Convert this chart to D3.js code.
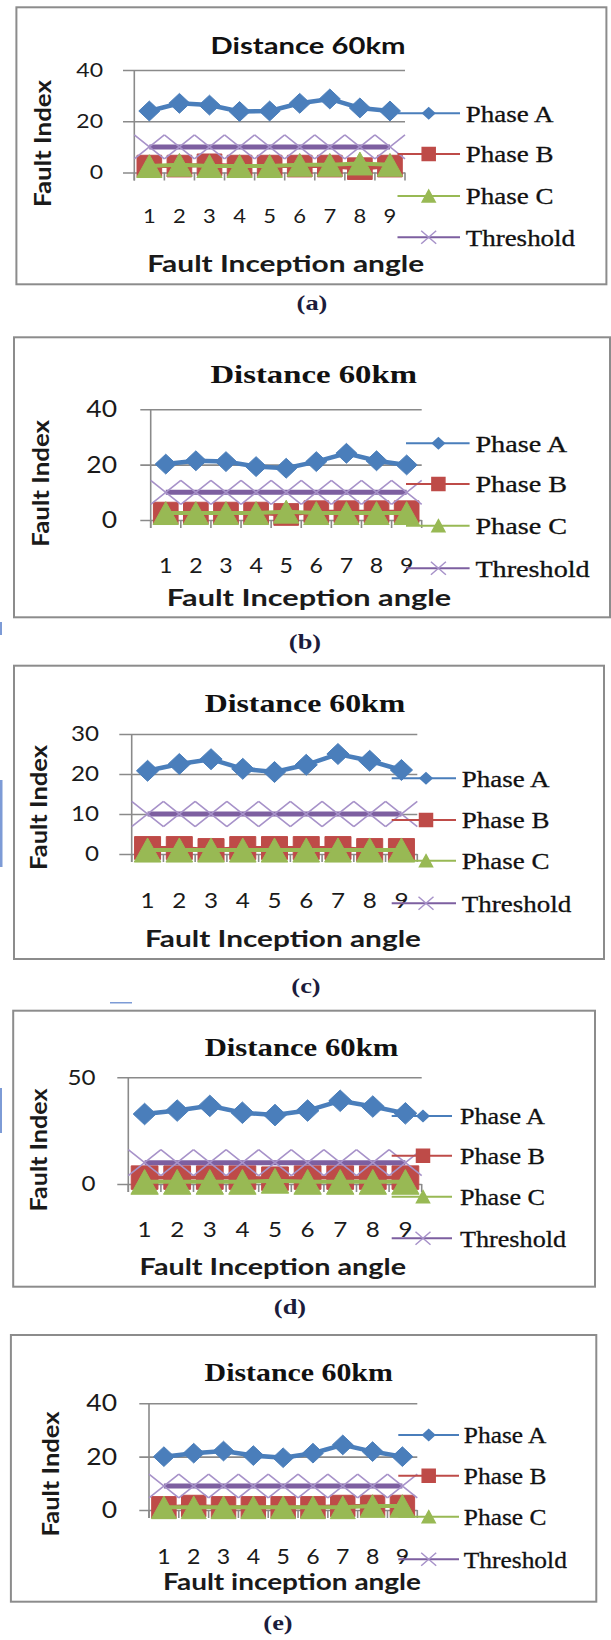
<!DOCTYPE html>
<html>
<head>
<meta charset="utf-8">
<script src="https://cdn.jsdelivr.net/npm/d3@7"></script>
<style>
  body { margin: 0; background: #fff; }
</style>
</head>
<body>
<div id="chart"></div>
<script>
// ---- data ----
const categories = ["1", "2", "3", "4", "5", "6", "7", "8", "9"];
const panelLabels = ["(a)", "(b)", "(c)", "(d)", "(e)"];
const chartTitles = ["Distance 60km", "Distance 60km", "Distance 60km", "Distance 60km", "Distance 60km"];
const xTitles = ["Fault Inception angle", "Fault Inception angle", "Fault Inception angle",
                 "Fault Inception angle", "Fault inception angle"];
const yTitle = "Fault Index";
const seriesNames = ["Phase A", "Phase B", "Phase C", "Threshold"];
const yMax = [40, 40, 30, 50, 40];
const yTicks = [[0, 20, 40], [0, 20, 40], [0, 10, 20, 30], [0, 50], [0, 20, 40]];

const phaseA = [
  [24, 27, 26.3, 23.8, 24, 27, 28.7, 25.2, 24],
  [20.2, 21.4, 21.1, 19.3, 18.7, 21.1, 24.1, 21.4, 19.9],
  [20.8, 22.5, 23.7, 21.3, 20.5, 22.3, 25, 23.3, 21],
  [32.8, 34.4, 36.6, 33.4, 32.3, 34.4, 39, 36.3, 33.1],
  [20, 21.3, 22.1, 20.4, 19.6, 21.3, 24.4, 21.9, 20]
];
const phaseB = [
  [2.5, 2.5, 3, 2.5, 2.5, 2.5, 2.5, 1.5, 2.5],
  [2.5, 2.5, 2.5, 2.5, 2, 3, 3, 3, 3],
  [1.5, 1.5, 1, 1.5, 1.5, 1.5, 1.5, 1, 1],
  [3, 3, 3, 3, 2.5, 3, 3, 3, 3],
  [1, 1.5, 1, 1, 1, 1, 1.5, 1.5, 1.5]
];
const phaseC = [
  [2.5, 3, 2.5, 2.5, 2.5, 3, 3, 3.5, 3],
  [2.5, 2.5, 2.5, 2.5, 3, 2.5, 2.5, 2.5, 2.5],
  [1, 1, 1, 1, 1, 1, 1, 1, 1],
  [1, 1, 1, 1, 1.5, 1, 1, 1, 1],
  [1, 1, 1, 1, 1, 1, 1, 1.5, 1.5]
];
const threshold = [
  [10, 10, 10, 10, 10, 10, 10, 10, 10],
  [10, 10, 10, 10, 10, 10, 10, 10, 10],
  [10, 10, 10, 10, 10, 10, 10, 10, 10],
  [10, 10, 10, 10, 10, 10, 10, 10, 10],
  [9, 9, 9, 9, 9, 9, 9, 9, 9]
];

// ---- page layout of each panel ----
const layout = [
  { box: [16.4, 7.3, 606.4, 284.3], px: [134.3, 405], py: [172.5, 70], gridL: 123, tickR: 103, tickFs: 20, xLabY: 223, xLabFs: 20,
    title: { x: 308, y: 54, w: 195, fs: 23, serif: false }, yT: { x: 43, y: 143.5, w: 127 }, xT: { x: 285.7, y: 271.7, w: 277 },
    leg: { l0: 397.5, l1: 460, m: 428.7, t: 465.7, rows: [113.3, 154, 196, 237.3], w: 87.7 }, cap: { x: 312, y: 310 } },
  { box: [14, 337.3, 610, 617.3], px: [150.7, 421.7], py: [520, 409.3], gridL: 140.3, tickR: 117, tickFs: 23, xLabY: 573, xLabFs: 21,
    title: { x: 313.7, y: 383.3, w: 206.5, fs: 26, serif: true }, yT: { x: 41, y: 483.3, w: 126.7 }, xT: { x: 309, y: 606, w: 284.5 },
    leg: { l0: 406, l1: 469.6, m: 438.4, t: 475.4, rows: [443.3, 484, 525.7, 568.3], w: 91.6 }, cap: { x: 305, y: 649 } },
  { box: [14, 665.7, 604, 959], px: [131.7, 417.3], py: [854, 734], gridL: 119.3, tickR: 99, tickFs: 21, xLabY: 908, xLabFs: 22,
    title: { x: 305, y: 711.7, w: 200.7, fs: 26, serif: true }, yT: { x: 39, y: 807.5, w: 125 }, xT: { x: 283, y: 946.7, w: 276 },
    leg: { l0: 391.7, l1: 456, m: 426, t: 461.8, rows: [778.3, 820, 860.7, 903.3], w: 87.7 }, cap: { x: 306, y: 993 } },
  { box: [13.2, 1010.7, 595, 1286.7], px: [128.3, 421.7], py: [1184, 1077.3], gridL: 117.3, tickR: 95.5, tickFs: 21, xLabY: 1237, xLabFs: 22,
    title: { x: 301.5, y: 1056, w: 193.7, fs: 26, serif: true }, yT: { x: 39, y: 1150, w: 123 }, xT: { x: 272.8, y: 1275, w: 266.5 },
    leg: { l0: 391.7, l1: 452, m: 423, t: 460, rows: [1116, 1155.7, 1196.7, 1238.3], w: 85 }, cap: { x: 290, y: 1314 } },
  { box: [10.9, 1335, 596.3, 1601.7], px: [149, 417.3], py: [1510, 1403.3], gridL: 139.3, tickR: 117, tickFs: 23, xLabY: 1564, xLabFs: 21,
    title: { x: 298.7, y: 1380.7, w: 188.2, fs: 26, serif: true }, yT: { x: 50.7, y: 1474, w: 125 }, xT: { x: 292, y: 1590, w: 258 },
    leg: { l0: 398.3, l1: 459, m: 428.7, t: 463.8, rows: [1435, 1475.7, 1516.7, 1559.3], w: 82.6 }, cap: { x: 278, y: 1630 } }
];

const colors = { A: "#4a7ebb", B: "#be4b48", C: "#98b954", T: "#7d5fa0", X: "#a792c9", grid: "#8a8a8a" };
const SANS = "Lato, 'Open Sans', sans-serif";
const SERIF = "'Liberation Serif', 'DejaVu Serif', serif";

// marker outlines, w x h centred on the point
const diamond = (w, h) => `M0,${-h / 2}L${w / 2},0L0,${h / 2}L${-w / 2},0Z`;
const square = (w, h) => `M${-w / 2},${-h / 2}h${w}v${h}h${-w}Z`;
const triangle = (w, h) => `M0,${-h / 2}L${w / 2},${h / 2}L${-w / 2},${h / 2}Z`;
const cross = (w, h) => `M${-w / 2},${-h / 2}L${w / 2},${h / 2}M${w / 2},${-h / 2}L${-w / 2},${h / 2}`;

const svg = d3.select("#chart").append("svg")
  .attr("width", 611)
  .attr("height", 1640);

//stretch text to a measured width
const fit = (sel, w) => sel.attr("textLength", w).attr("lengthAdjust", "spacingAndGlyphs");
const stretch = (sel, k) => sel.each(function () {
  d3.select(this).attr("textLength", this.getComputedTextLength() * k).attr("lengthAdjust", "spacingAndGlyphs");
});

// small blue cursor marks on the scanned page
[[0, 622, 2, 13], [0, 780, 2.5, 87], [0, 1088, 2, 45], [110, 1002, 22, 1.5]].forEach(r => {
  svg.append("rect").attr("x", r[0]).attr("y", r[1]).attr("width", r[2]).attr("height", r[3]).attr("fill", "#7d9bd6");
});

layout.forEach((L, i) => {
  const g = svg.append("g");

  //outer frame
  g.append("rect")
    .attr("x", L.box[0]).attr("y", L.box[1])
    .attr("width", L.box[2] - L.box[0]).attr("height", L.box[3] - L.box[1])
    .attr("fill", "#fff").attr("stroke", "#8c8c8c").attr("stroke-width", 2);

  const x = d3.scaleBand().domain(categories).range(L.px);
  const y = d3.scaleLinear().domain([0, yMax[i]]).range(L.py);
  const bw = x.bandwidth();
  const cx = (j) => x(categories[j]) + bw / 2;

  //gridlines + value labels, axis anchored on the right end
  const yAxis = g.append("g")
    .attr("transform", `translate(${L.px[1]},0)`)
    .call(d3.axisLeft(y).tickValues(yTicks[i]).tickFormat(d3.format("d"))
      .tickSize(L.px[1] - L.gridL).tickPadding(L.gridL - L.tickR));
  yAxis.select(".domain").remove();
  yAxis.selectAll("line").attr("stroke", colors.grid).attr("stroke-width", 1.6);
  yAxis.selectAll("text")
    .style("font-family", SANS).attr("font-size", L.tickFs).attr("fill", "#1a1a1a")
    .call(stretch, 1.15);

  //vertical value axis
  g.append("line")
    .attr("x1", L.px[0]).attr("x2", L.px[0])
    .attr("y1", y(yMax[i])).attr("y2", y(0) + 8)
    .attr("stroke", colors.grid).attr("stroke-width", 1.6);

  //category ticks between the bands
  g.selectAll(".ctick")
    .data(categories.map(c => x(c)).concat([L.px[1]]))
    .enter().append("line")
    .attr("x1", d => d).attr("x2", d => d)
    .attr("y1", y(0)).attr("y2", y(0) + 8)
    .attr("stroke", colors.grid).attr("stroke-width", 1.6);

  //category labels
  const xAxis = g.append("g")
    .attr("transform", `translate(0,${y(0)})`)
    .call(d3.axisBottom(x).tickSize(0).tickPadding(L.xLabY - L.py[0] - 0.71 * L.xLabFs));
  xAxis.select(".domain").remove();
  xAxis.selectAll("text")
    .style("font-family", SANS).attr("font-size", L.xLabFs).attr("fill", "#1a1a1a")
    .call(stretch, 1.1);

  //series, drawn in Excel order: A, B, C, Threshold
  const line = d3.line().x((d, j) => cx(j)).y(d => y(d));
  const series = [
    { v: phaseA[i], col: colors.A, lw: 4.5, shape: diamond(bw * 0.7, bw * 0.66), fill: colors.A, stroke: colors.A, sw: 1 },
    { v: phaseB[i], col: colors.B, lw: 4, shape: square(bw * 0.82, bw * 0.72), fill: colors.B, stroke: colors.B, sw: 1 },
    { v: phaseC[i], col: colors.C, lw: 4, shape: triangle(bw * 0.84, bw * 0.76), fill: colors.C, stroke: colors.C, sw: 1 },
    { v: threshold[i], col: colors.T, lw: 5, shape: cross(bw, bw * 0.8), fill: "none", stroke: colors.X, sw: 1.6 }
  ];
  series.forEach(s => {
    g.append("path")
      .datum(s.v)
      .attr("d", line)
      .attr("fill", "none")
      .attr("stroke", s.col)
      .attr("stroke-width", s.lw);
    g.selectAll(null)
      .data(s.v)
      .enter().append("path")
      .attr("transform", (d, j) => `translate(${cx(j)},${y(d)})`)
      .attr("d", s.shape)
      .attr("fill", s.fill)
      .attr("stroke", s.stroke)
      .attr("stroke-width", s.sw);
  });

  //title
  g.append("text")
    .attr("x", L.title.x).attr("y", L.title.y)
    .attr("text-anchor", "middle")
    .style("font-family", L.title.serif ? SERIF : SANS)
    .attr("font-weight", "bold")
    .attr("font-size", L.title.fs)
    .attr("fill", "#111")
    .text(chartTitles[i])
    .call(fit, L.title.w);

  //axis titles
  g.append("text")
    .attr("transform", `translate(${L.yT.x + 8},${L.yT.y}) rotate(-90)`)
    .attr("text-anchor", "middle")
    .style("font-family", SANS).attr("font-weight", "bold").attr("font-size", 23)
    .attr("fill", "#1a1a1a")
    .text(yTitle)
    .call(fit, L.yT.w);
  g.append("text")
    .attr("x", L.xT.x).attr("y", L.xT.y)
    .attr("text-anchor", "middle")
    .style("font-family", SANS).attr("font-weight", "bold").attr("font-size", 22)
    .attr("fill", "#1a1a1a")
    .text(xTitles[i])
    .call(fit, L.xT.w);

  //legend
  const legShapes = [diamond(12, 11), square(13, 13), triangle(13, 12), cross(15, 13)];
  const legCols = [colors.A, colors.B, colors.C, colors.T];
  const leg = g.selectAll(".leg")
    .data(seriesNames)
    .enter().append("g")
    .attr("transform", (d, k) => `translate(0,${L.leg.rows[k]})`);
  leg.append("line")
    .attr("x1", L.leg.l0).attr("x2", L.leg.l1)
    .attr("stroke", (d, k) => legCols[k]).attr("stroke-width", 2);
  leg.append("path")
    .attr("transform", `translate(${L.leg.m},0)`)
    .attr("d", (d, k) => legShapes[k])
    .attr("fill", (d, k) => k === 3 ? "none" : legCols[k])
    .attr("stroke", (d, k) => k === 3 ? colors.X : legCols[k])
    .attr("stroke-width", 1.5);
  const legText = leg.append("text")
    .attr("x", L.leg.t).attr("y", 8.3)
    .style("font-family", SERIF).attr("font-size", 24)
    .attr("fill", "#111")
    .attr("stroke", "#111").attr("stroke-width", 0.3)
    .text(d => d);
  const k0 = L.leg.w / legText.node().getComputedTextLength();
  legText.call(stretch, k0);

  //panel caption
  svg.append("text")
    .attr("x", L.cap.x).attr("y", L.cap.y)
    .attr("text-anchor", "middle")
    .style("font-family", SERIF).attr("font-weight", "bold").attr("font-size", 22)
    .attr("fill", "#1c1c3c")
    .text(panelLabels[i])
    .call(stretch, 1.2);
});
</script>
</body>
</html>
